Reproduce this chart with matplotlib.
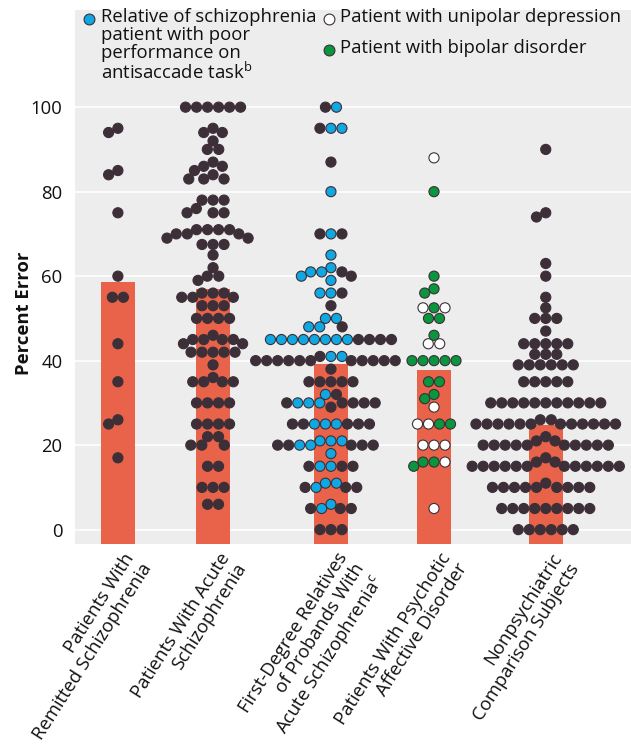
import matplotlib.pyplot as plt
import matplotlib.transforms as mtransforms
import numpy as np

plt.rcParams['font.family'] = ['Open Sans', 'DejaVu Sans']
plt.rcParams['mathtext.fontset'] = 'custom'
plt.rcParams['mathtext.rm'] = 'Open Sans'

group_labels = [
    "Patients With\nRemitted Schizophrenia",
    "Patients With Acute\nSchizophrenia",
    "First-Degree Relatives\nof Probands With\nAcute Schizophrenia$^\\mathrm{c}$",
    "Patients With Psychotic\nAffective Disorder",
    "Nonpsychiatric\nComparison Subjects",
]
bar_means = [58.5, 57.0, 39.1, 37.9, 24.7]

# each row: one error value, one letter per subject from left to right
# d = other subject, b = poor-performing relative, w = unipolar, g = bipolar
remitted_rows = [95, 94, 85, 84, 75, 60, 55, 44, 35, 26, 25, 17]
remitted_kinds = ["d", "d", "d", "d", "d", "d", "dd", "d", "d", "d", "d", "d"]

acute_rows = [100, 95, 94, 92, 90, 87, 86, 85, 84, 83, 78, 76, 75, 71, 70, 69,
              67.5, 65, 62, 60, 59, 56, 55, 53, 50, 46, 45, 44, 42, 39, 36,
              35, 30, 25, 22, 20, 15, 10, 6]
acute_kinds = ["dddddd", "d", "dd", "d", "dd", "d", "dd", "d", "d", "ddd",
               "ddd", "d", "ddd", "dddd", "ddd", "dd", "ddd", "d", "d", "dd",
               "d", "ddd", "ddd", "ddd", "dddd", "d", "dddd", "dd", "ddddd",
               "d", "d", "dddd", "dddd", "dddd", "dd", "ddd", "dd", "ddd", "dd"]

relatives_rows = [100, 95, 87, 80, 70, 65, 62, 61, 60, 59, 56, 53, 50, 48, 45,
                  41, 40, 38, 35, 32, 30, 29, 25, 21, 20, 18, 15, 11, 10, 6,
                  5, 0]
relatives_kinds = ["db", "dbb", "d", "b", "dbd", "b", "b", "bbd", "bd", "b",
                   "bbd", "d", "bb", "bbd", "bbbbbbbbdddd", "dbb",
                   "ddddddddddd", "d", "ddddd", "bd", "dbbbdddd", "d",
                   "ddbbbddd", "bbb", "ddbbddd", "b", "dbbdd", "bb", "dbdd",
                   "b", "dbdd", "ddd"]

affective_rows = [88, 80, 60, 57, 56, 52.5, 50, 46, 44, 40, 35, 32, 31, 29, 25,
                  20, 16, 15, 5]
affective_kinds = ["w", "g", "g", "g", "g", "wgw", "gg", "g", "ww", "ggggg",
                   "gg", "g", "g", "w", "wwgg", "www", "ggw", "g", "w"]

comparison_rows = [90, 75, 74, 63, 60, 55, 52.5, 50, 47, 44, 41.5, 39, 35, 30,
                   26, 25, 22, 21, 20, 17, 16, 15, 11, 10, 5, 0]
comparison_kinds = ["d", "d", "d", "d", "d", "d", "d", "ddd", "d", "ddddd",
                    "ddd", "dddddd", "ddddd", "d" * 11, "dd", "d" * 12, "d",
                    "dd", "d" * 10, "d", "dd", "d" * 12, "d", "d" * 9,
                    "d" * 9, "d" * 6]

groups = [(remitted_rows, remitted_kinds), (acute_rows, acute_kinds),
          (relatives_rows, relatives_kinds), (affective_rows, affective_kinds),
          (comparison_rows, comparison_kinds)]

DARK = "#3c2f38"
fill = {"d": DARK, "b": "#10a8e2", "w": "white", "g": "#0a963c"}

xpos = [0.39, 1.255, 2.327, 3.264, 4.28]
D_ROW = 11.0   # px between neighbours in a row
D_HIT = 10.2   # px, closer than this and two dots overlap


def push(x, y, step, placed):
    # slide x in direction step until it clears every placed dot
    moved = True
    while moved:
        moved = False
        for px, py in placed:
            dy = abs(py - y)
            if dy >= D_HIT:
                continue
            w = np.sqrt(D_HIT ** 2 - dy ** 2)
            if abs(x - px) < w - 1e-9:
                x = px + step * w
                moved = True
    return x


def place_row(y, n, placed):
    ideal = [(i - (n - 1) / 2) * D_ROW for i in range(n)]
    ideal.sort(key=lambda u: (abs(u), u))
    xs = []
    left = right = None
    for u in ideal:
        here = placed + [(x, y) for x in xs]
        if u == 0:
            xl = push(0.0, y, -1, here)
            xr = push(0.0, y, 1, here)
            x = xl if -xl <= xr else xr
            left = right = x
        elif u < 0:
            start = u if left is None else min(u, left - D_ROW)
            x = push(start, y, -1, here)
            left = x
        else:
            start = u if right is None else max(u, right + D_ROW)
            x = push(start, y, 1, here)
            right = x
        xs.append(x)
    return sorted(xs)


W, H = 631, 746
fig = plt.figure(figsize=(W / 100, H / 100), dpi=100)
ax = fig.add_axes([75 / W, (H - 544) / H, 556 / W, 534 / H])
ax.set_facecolor("#ededed")
ax.set_xlim(0, 5.055)
ax.set_ylim(-3.4, 123)
for s in ax.spines.values():
    s.set_visible(False)

ax.set_yticks(range(0, 101, 20))
ax.tick_params(axis="y", length=0, pad=9, labelsize=13.3, labelcolor="#111111")
ax.grid(axis="y", color="white", linewidth=1.2)
ax.set_axisbelow(True)

ax.bar(xpos, [m + 3.4 for m in bar_means], bottom=-3.4, width=0.31,
       color="#e9634a", zorder=1)

ax.set_xticks(xpos)
ax.set_xticklabels(group_labels, rotation=57.5, ha="right", va="top",
                   rotation_mode="anchor", ma="right", linespacing=1.15,
                   fontsize=13.3, color="#111111")
ax.tick_params(axis="x", length=0, pad=4)
shift = mtransforms.ScaledTranslation(5 / 100, 0, fig.dpi_scale_trans)
for lab in ax.get_xticklabels():
    lab.set_transform(lab.get_transform() + shift)

# beeswarm layout in pixel space
x0 = ax.transData.transform((0, 0))
x1 = ax.transData.transform((1, 1))
xscale = x1[0] - x0[0]
dot_x, dot_y, dot_c = [], [], []
for gi, (rows, kinds) in enumerate(groups):
    placed = []
    for val, kind in sorted(zip(rows, kinds), key=lambda r: -r[0]):
        ypx = ax.transData.transform((0, val))[1]
        offs = place_row(ypx, len(kind), placed)
        placed += [(o, ypx) for o in offs]
        for o, k in zip(offs, kind):
            dot_x.append(xpos[gi] + o / xscale)
            dot_y.append(val)
            dot_c.append(fill[k])

ax.scatter(dot_x, dot_y, s=53, c=dot_c, edgecolors=DARK, linewidths=0.8,
           zorder=3, clip_on=False)

fig.text(24.5 / W, 1 - 313 / H, "Percent Error", rotation=90, ha="center",
         va="center", fontsize=13.3, fontweight="bold", color="#111111")

# legend
leg = [(89, 19, fill["b"]), (329, 19, fill["w"]), (329, 50, fill["g"])]
for lx, ly, lc in leg:
    ax.plot([lx / W], [1 - ly / H], "o", ms=7.8, mfc=lc, mec=DARK, mew=0.8,
            transform=fig.transFigure, clip_on=False)
fig.text(101 / W, 1 - 8 / H,
         "Relative of schizophrenia\npatient with poor\nperformance on\n"
         "antisaccade task$^\\mathrm{b}$",
         ha="left", va="top", fontsize=13.3, linespacing=1.0, color="#111111")
fig.text(340 / W, 1 - 8 / H, "Patient with unipolar depression",
         ha="left", va="top", fontsize=13.3, color="#111111")
fig.text(340 / W, 1 - 39 / H, "Patient with bipolar disorder",
         ha="left", va="top", fontsize=13.3, color="#111111")

fig.savefig("out.png", dpi=100)
